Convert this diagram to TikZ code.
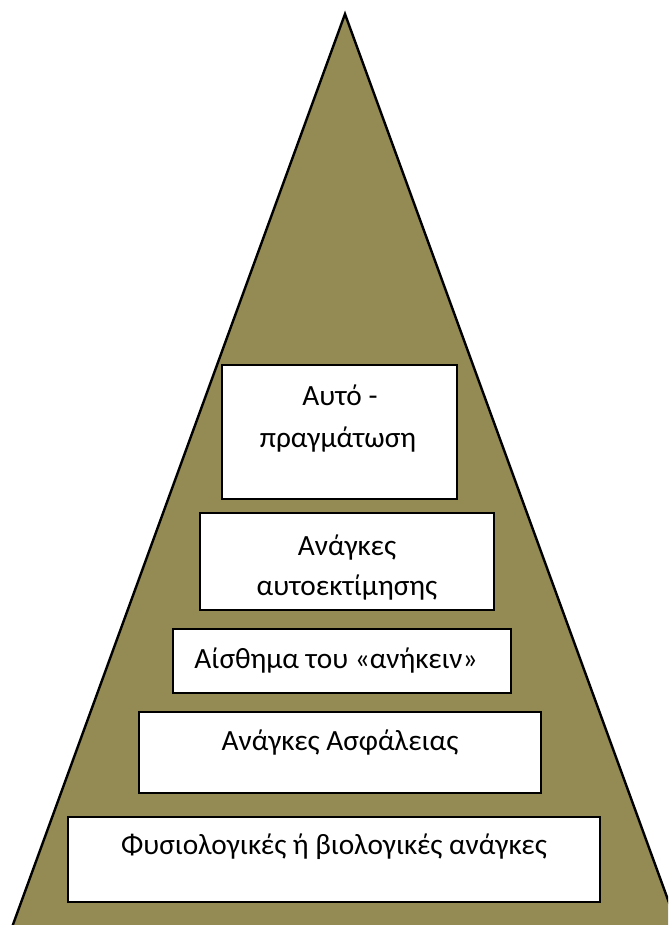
\documentclass[tikz,border=0pt]{standalone}
\usepackage{fontspec}
\setmainfont{Carlito}
\usepackage{tikz}
\definecolor{pyramidfill}{HTML}{948A54}
\tikzset{
  level/.style={draw=black, fill=white, line width=1.2pt},
  lvltext/.style={anchor=base, inner sep=0pt, font=\fontsize{22}{30}\selectfont}
}

\begin{document}
\begin{tikzpicture}[x=0.75pt,y=-0.75pt]
        \useasboundingbox (0,0) rectangle (668,925);
        % pyramid
        \begin{scope}
        \clip (0,0) rectangle (668,925);
        \filldraw[fill=pyramidfill, line width=1.8pt] (345,14) -- (679,930) -- (11,930) -- cycle;
        \end{scope}
        % levels, top to bottom
        \draw[level] (222,365) rectangle (457,499);
        \draw[level] (200,513) rectangle (494,610);
        \draw[level] (173,629) rectangle (511,693);
        \draw[level] (139,712) rectangle (541,793);
        \draw[level] (68,817) rectangle (600,902);
        \node[lvltext] (self1) at (340,405) {Αυτό -};
        \node[lvltext] (self2) at (338,447) {πραγμάτωση};
        \node[lvltext] (esteem1) at (347,555) {Ανάγκες};
        \node[lvltext] (esteem2) at (347,595) {αυτοεκτίμησης};
        \node[lvltext] (belong) at (336,668) {Αίσθημα του «ανήκειν»};
        \node[lvltext] (safety) at (340,750) {Ανάγκες Ασφάλειας};
        \node[lvltext] (physio) at (334,854) {Φυσιολογικές ή βιολογικές ανάγκες};
        \end{tikzpicture}
\end{document}
